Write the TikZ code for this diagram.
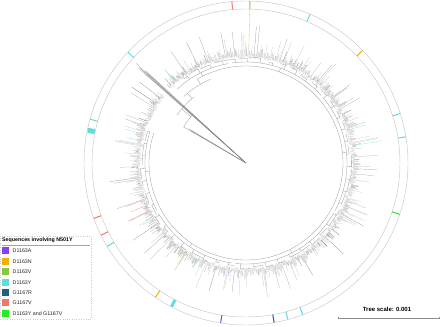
\documentclass[tikz,border=0pt]{standalone}
\usepackage{fontspec}
\setmainfont{Liberation Sans}
\definecolor{cA}{HTML}{8A3FF0}
\definecolor{cN}{HTML}{F0B000}
\definecolor{cV}{HTML}{8CC63F}
\definecolor{cY}{HTML}{5FDCDC}
\definecolor{cR}{HTML}{1F5F7F}
\definecolor{cL}{HTML}{F0786A}
\definecolor{cG}{HTML}{22EE22}
\begin{document}
\begin{tikzpicture}[x=1pt,y=1pt,
  ringline/.style={draw=black!22, line width=0.45pt},
  branch/.style={draw=black!40, line width=0.3pt},
  leafline/.style={line width=0.2pt},
  tick/.style={line width=1pt},
  legsq/.style={draw=none, minimum size=7pt, inner sep=0pt},
  legtext/.style={font=\fontsize{5.3}{6}\selectfont, anchor=west, inner sep=0pt, text=black!85},
  ]
\useasboundingbox (0,0) rectangle (440,327);
\begin{scope}[shift={(246,164)}]
  % outer colour strip rings
  \node[circle, ringline, minimum size=324pt, inner sep=0pt] (outerring) at (0,0) {};
  \node[circle, ringline, minimum size=308pt, inner sep=0pt] (innerring) at (0,0) {};
  % colour marks
  \foreach \ang/\col in {95/cL, 88.6/cV, 66.7/cY, 44/cN, 17.8/cY, 9.3/cY, -18.5/cG,
      136.8/cY, 164.3/cY, 200/cL, 206.5/cL, 211/cY, 236/cN, 261/cA, 280/cR, 285/cY, 290.5/cY}
    {\draw[tick, \col] (\ang:154) -- (\ang:162);}
  \draw[line width=5pt, cY] (168.3:154.4) -- (168.3:161.6);
  \draw[line width=3pt, cY] (242.6:154.4) -- (242.6:161.6);
  % tree backbone
  \draw[branch] (120:97) arc[start angle=120, end angle=-198, radius=97];
  \draw[branch] (113:91) arc[start angle=113, end angle=133, radius=91];
  \draw[branch] (128:84) arc[start angle=128, end angle=145, radius=84];
  \draw[branch] (138:72) arc[start angle=138, end angle=150, radius=72];
  \draw[branch] (0,0) -- (150:72);
  \draw[branch] (140:72) -- (140:84);
  \draw[branch] (130:84) -- (130:91);
  \draw[branch] (120:91) -- (120:97);
  \foreach \s/\e in {133/100, 98/42, 40/-28, -30/-96, -98/-150, -152/-198}{
    \draw[branch] (\s:101) arc[start angle=\s, end angle=\e, radius=101];
    \pgfmathsetmacro\m{(\s+\e)/2}
    \draw[branch] (\m:97) -- (\m:101);
  }
  \pgfmathsetseed{4711}
  \foreach \s in {-198,-191,...,128}{
    \pgfmathsetmacro\wd{2+5*rnd}
    \pgfmathsetmacro\rr{103+3*rnd}
    \draw[branch] (\s:101) -- (\s:\rr) arc[start angle=\s, end angle=\s+\wd, radius=\rr];
  }
  % leaves
  \foreach \a in {141,141.45,...,495.2}{
    \pgfmathsetmacro\u{rnd}
    \pgfmathsetmacro\v{rnd}
    \pgfmathsetmacro\w{rnd}
    \pgfmathsetmacro\rb{104+4*\w}
    \pgfmathsetmacro\re{min(145,\rb+3+10*\u*\u+(\u>0.88)*20*\v)}
    \pgfmathtruncatemacro\g{22+50*\v*\w}
    \draw[leafline, black!\g] (\a:\rb) -- (\a:\re);
  }
  % long branches
  \foreach \k in {0,...,6}{
    \pgfmathsetmacro\ang{137.4+0.2*\k}
    \pgfmathsetmacro\len{128+22*rnd}
    \draw[line width=0.15pt, black!50] (0,0) -- (\ang:\len);
  }
  \foreach \k in {0,...,3}{
    \pgfmathsetmacro\ang{149+0.3*\k}
    \pgfmathsetmacro\len{62+12*rnd}
    \draw[line width=0.15pt, black!45] (0,0) -- (\ang:\len);
  }
  % coloured leaves
  \foreach \ang/\col/\ra/\rz in {88.6/cV/110/153, 9.3/cY/108/138, 17.8/cY/108/125,
      200/cL/110/128, 203/cL/112/125, 206.5/cL/110/130, 211/cY/108/120,
      164.3/cY/110/126, 168/cY/110/122, 236/cN/106/122, 242.6/cY/106/118,
      261/cA/105/115, 131/cY/108/124}
    {\draw[line width=0.3pt, \col!70] (\ang:\ra) -- (\ang:\rz);}
\end{scope}
% legend
\draw[black!20, dotted, line width=0.3pt] (0,8) rectangle (91,91);
\node[font=\bfseries\fontsize{5.3}{6}\selectfont, anchor=west, inner sep=0pt] (legtitle) at (2,87) {Sequences involving N501Y};
\coordinate (ulL) at (2,82);
\coordinate (ulR) at (90,82);
\draw[black!35, line width=0.4pt] (ulL) -- (ulR);
\foreach \nm/\col/\txt/\yy in {a/cA/D1163A/76, n/cN/D1163N/65.5, v/cV/D1163V/55, y/cY/D1163Y/44.5,
    r/cR/G1167R/34.5, l/cL/G1167V/24, g/cG/{D1163Y and G1167V}/13.5}{
  \node[legsq, fill=\col] (sq\nm) at (5.5,\yy) {};
  \node[legtext] (tx\nm) at (12.5,\yy) {\txt};
}
% tree scale
\node[font=\bfseries\fontsize{6}{7}\selectfont, inner sep=0pt] (scaletxt) at (387,18) {Tree scale: 0.001};
\coordinate (sbL) at (338,9);
\coordinate (sbR) at (439,9);
\draw[black!45, line width=0.5pt] (sbL) -- (sbR);
\draw[black!45, line width=0.4pt] ([yshift=-1.2pt]sbL) -- ([yshift=1.2pt]sbL);
\draw[black!45, line width=0.4pt] ([yshift=-1.2pt]sbR) -- ([yshift=1.2pt]sbR);
\end{tikzpicture}
\end{document}
